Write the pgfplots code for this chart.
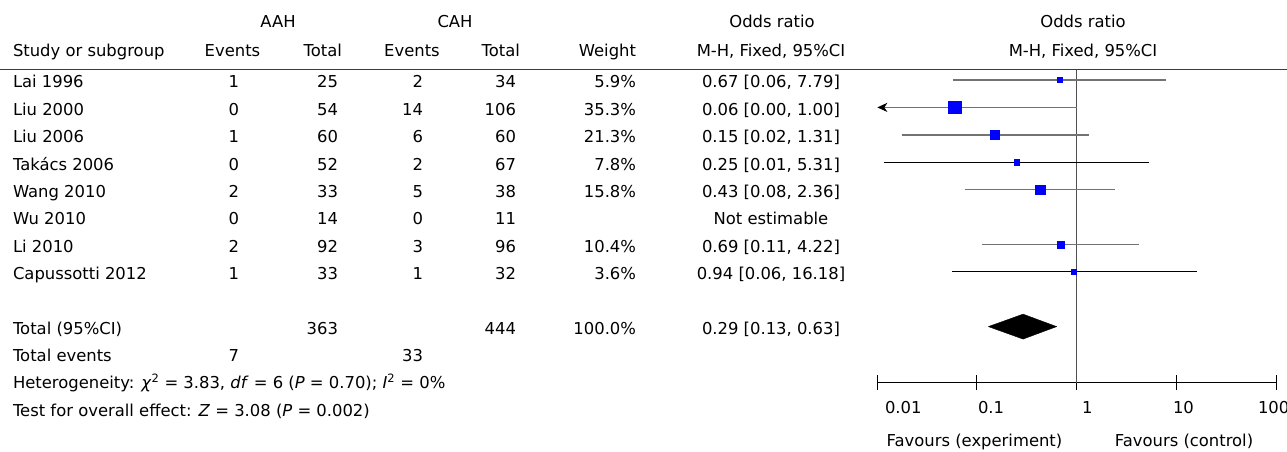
\documentclass[border=0pt]{standalone}
\usepackage{fontspec}
\setmainfont{DejaVu Sans}
\usepackage{pgfplots}
\usepackage{pgfplotstable}
\pgfplotsset{compat=1.18}
\usetikzlibrary{arrows.meta}
\definecolor{cigray}{RGB}{115,115,115}
\definecolor{vgray}{RGB}{80,80,80}
\definecolor{hgray}{RGB}{60,60,60}
\definecolor{sqblue}{RGB}{0,0,255}

% study estimates: OR, row, half side of square (weight)
\pgfplotstableread{
or   row ms
0.67 1   2.4
0.06 2   6.3
0.15 3   4.8
0.25 4   2.9
0.43 5   4.6
0.69 7   3.7
0.94 8   2.4
}\studies

\newcommand{\trow}[9]{%
  \pgfmathsetmacro\yb{-(87.8+27.4*(#1-1))}%
  \node[anchor=base west] at (13pt,\yb pt) {#2};
  \node[anchor=base east] at (239pt,\yb pt) {#3};
  \node[anchor=base east] at (338pt,\yb pt) {#4};
  \node[anchor=base east] at (423pt,\yb pt) {#5};
  \node[anchor=base east] at (516pt,\yb pt) {#6};
  \node[anchor=base east] at (636pt,\yb pt) {#7};
  \node[anchor=base] at (771pt,\yb pt) {#8};
}

\begin{document}
\begin{tikzpicture}[font=\fontsize{16.4}{19}\selectfont, inner sep=0pt, outer sep=0pt]
\useasboundingbox (0pt,0pt) rectangle (1287pt,-452pt);

% header
\def\hA{-28pt}
\def\hB{-56.5pt}
\node[anchor=base] at (278pt,\hA) {AAH};
\node[anchor=base] at (455pt,\hA) {CAH};
\node[anchor=base] at (772pt,\hA) {Odds ratio};
\node[anchor=base] at (1083pt,\hA) {Odds ratio};
\node[anchor=base west] at (13pt,\hB) {Study or subgroup};
\node[anchor=base] at (232.5pt,\hB) {Events};
\node[anchor=base east] at (342pt,\hB) {Total};
\node[anchor=base] at (412pt,\hB) {Events};
\node[anchor=base east] at (520pt,\hB) {Total};
\node[anchor=base east] at (636pt,\hB) {Weight};
\node[anchor=base] at (771pt,\hB) {M-H, Fixed, 95\%CI};
\node[anchor=base] at (1083pt,\hB) {M-H, Fixed, 95\%CI};
\draw[hgray, line width=1.3pt] (0pt,-69.5pt) -- (1287pt,-69.5pt);

% study rows
\trow{1}{Lai 1996}{1}{25}{2}{34}{5.9\%}{0.67 [0.06, 7.79]}{}
\trow{2}{Liu 2000}{0}{54}{14}{106}{35.3\%}{0.06 [0.00, 1.00]}{}
\trow{3}{Liu 2006}{1}{60}{6}{60}{21.3\%}{0.15 [0.02, 1.31]}{}
\trow{4}{Takács 2006}{0}{52}{2}{67}{7.8\%}{0.25 [0.01, 5.31]}{}
\trow{5}{Wang 2010}{2}{33}{5}{38}{15.8\%}{0.43 [0.08, 2.36]}{}
\trow{6}{Wu 2010}{0}{14}{0}{11}{}{Not estimable}{}
\trow{7}{Li 2010}{2}{92}{3}{96}{10.4\%}{0.69 [0.11, 4.22]}{}
\trow{8}{Capussotti 2012}{1}{33}{1}{32}{3.6\%}{0.94 [0.06, 16.18]}{}
\trow{10}{Total (95\%CI)}{}{363}{}{444}{100.0\%}{0.29 [0.13, 0.63]}{}
\trow{11}{Total events}{7}{}{33}{}{}{}{}
\node[anchor=base west] at (13pt,-388.6pt) {Heterogeneity: \textit{χ}\textsuperscript{2} = 3.83, \textit{df} = 6 (\textit{P} = 0.70); \textit{I}\textsuperscript{2} = 0\%};
\node[anchor=base west] at (13pt,-416pt) {Test for overall effect: \textit{Z} = 3.08 (\textit{P} = 0.002)};

% x tick labels and favours labels
\node[anchor=base west] at (885pt,-413pt) {0.01};
\node[anchor=base west] at (978pt,-413pt) {0.1};
\node[anchor=base west] at (1082pt,-413pt) {1};
\node[anchor=base west] at (1173pt,-413pt) {10};
\node[anchor=base west] at (1258pt,-413pt) {100};
\node[anchor=base] at (974.5pt,-446.5pt) {Favours (experiment)};
\node[anchor=base] at (1184pt,-446.5pt) {Favours (control)};

\begin{axis}[
  at={(877.3pt,-382.7pt)}, anchor=south west,
  scale only axis, width=398.7pt, height=313.2pt,
  xmode=log, xmin=0.01, xmax=100,
  ymin=-12.047, ymax=-0.617,
  axis y line=none, axis x line*=bottom,
  axis line style={black, line width=1pt},
  xtick={0.01,0.1,1,10,100}, xticklabels={},
  minor x tick style={draw=none},
  major tick length=15pt, tick align=center,
  major tick style={black, line width=1pt},
  clip=false,
]
% line of no effect
\addplot[vgray, line width=1.5pt] coordinates {(1,-0.617) (1,-12.047)};
% confidence intervals
\addplot[cigray, line width=1.6pt] coordinates {(0.057,-1) (7.9,-1)};
\addplot[cigray, line width=1.6pt, -{Stealth[length=10pt,width=9pt,inset=3pt,color=black]}] coordinates {(1.00,-2) (0.01,-2)};
\addplot[cigray, line width=1.6pt] coordinates {(0.0175,-3) (1.34,-3)};
\addplot[black, line width=1pt] coordinates {(0.0116,-4) (5.36,-4)};
\addplot[cigray, line width=1.6pt] coordinates {(0.075,-5) (2.44,-5)};
\addplot[cigray, line width=1.6pt] coordinates {(0.111,-7) (4.25,-7)};
\addplot[black, line width=1pt] coordinates {(0.0566,-8) (16.2,-8)};
% squares sized by weight
\addplot[scatter, only marks, mark=square*,
  scatter/use mapped color={draw=sqblue, fill=sqblue},
  visualization depends on={\thisrow{ms} \as \msz},
  scatter/@pre marker code/.append style={/tikz/mark size=\msz}]
  table[x=or, y expr=-\thisrow{row}] {\studies};
% pooled estimate
\addplot[black, fill=black] coordinates {(0.13,-10) (0.29,-9.545) (0.63,-10) (0.29,-10.455) (0.13,-10)};
\end{axis}
\end{tikzpicture}
\end{document}
